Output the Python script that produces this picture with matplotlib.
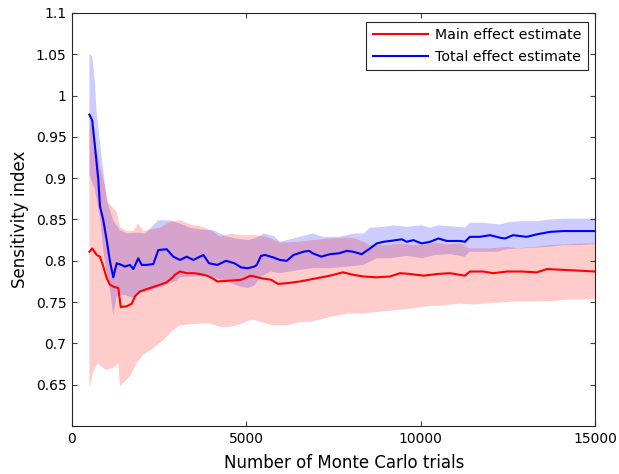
import matplotlib
matplotlib.use("Agg")
import matplotlib.pyplot as plt
import numpy as np

# main effect (red) estimate
main_x = [500, 580, 710, 803, 898, 995, 1090, 1233, 1328, 1397, 1569, 1712, 1807, 1950,
          2237, 2524, 2716, 2859, 2950, 3097, 3290, 3480, 3670, 3870, 4020, 4170, 4550,
          4850, 5130, 5420, 5710, 5910, 6190, 6540, 6911, 7399, 7770, 8070, 8360, 8740,
          9120, 9410, 9700, 10090, 10470, 10840, 11270, 11410, 11790, 12080, 12470,
          12900, 13330, 13620, 14090, 14570, 15000]
main_y = [0.811, 0.815, 0.807, 0.805, 0.793, 0.779, 0.771, 0.768, 0.767, 0.744, 0.745,
          0.748, 0.757, 0.763, 0.767, 0.771, 0.774, 0.779, 0.783, 0.787, 0.785, 0.785,
          0.784, 0.782, 0.779, 0.775, 0.776, 0.777, 0.782, 0.779, 0.777, 0.772, 0.773,
          0.775, 0.778, 0.782, 0.786, 0.783, 0.781, 0.780, 0.781, 0.785, 0.784, 0.782,
          0.784, 0.785, 0.782, 0.787, 0.787, 0.785, 0.787, 0.787, 0.786, 0.790, 0.789,
          0.788, 0.787]

# total effect (blue) estimate
total_x = [500, 580, 660, 755, 803, 898, 995, 1090, 1184, 1282, 1420, 1520, 1660, 1758,
           1901, 1999, 2130, 2332, 2475, 2716, 2905, 3097, 3290, 3480, 3670, 3770, 3930,
           4170, 4420, 4660, 4850, 5040, 5230, 5300, 5420, 5540, 5780, 5965, 6160, 6350,
           6640, 6800, 6911, 7150, 7399, 7650, 7886, 8060, 8310, 8550, 8740, 8930, 9120,
           9460, 9600, 9790, 10030, 10270, 10510, 10750, 11130, 11270, 11410, 11700,
           11990, 12270, 12420, 12650, 13040, 13330, 13710, 14090, 14480, 15000]
total_y = [0.977, 0.970, 0.938, 0.898, 0.866, 0.849, 0.825, 0.799, 0.780, 0.797, 0.795,
           0.793, 0.795, 0.790, 0.803, 0.795, 0.795, 0.796, 0.813, 0.814, 0.805, 0.801,
           0.805, 0.801, 0.805, 0.807, 0.797, 0.795, 0.800, 0.797, 0.792, 0.791, 0.793,
           0.795, 0.806, 0.807, 0.804, 0.801, 0.800, 0.807, 0.811, 0.812, 0.809, 0.805,
           0.808, 0.809, 0.812, 0.811, 0.808, 0.815, 0.821, 0.823, 0.824, 0.826, 0.823,
           0.825, 0.821, 0.823, 0.827, 0.824, 0.824, 0.823, 0.829, 0.829, 0.831, 0.828,
           0.827, 0.831, 0.829, 0.832, 0.835, 0.836, 0.836, 0.836]

# confidence band of main effect
main_hi_x = [500, 660, 803, 946, 1041, 1184, 1282, 1377, 1569, 1758, 1901, 2045, 2237,
             2524, 2810, 3097, 3390, 3770, 4050, 4250, 4550, 4850, 5300, 5590, 5965,
             6540, 6911, 7399, 7886, 8100, 8360, 8550, 9000, 9410, 9700, 10090, 10400,
             10750, 11130, 11410, 11990, 12470, 12800, 13330, 13710, 14200, 14570, 15000]
main_hi_y = [0.977, 0.942, 0.914, 0.890, 0.870, 0.864, 0.859, 0.841, 0.836, 0.836, 0.845,
             0.836, 0.838, 0.840, 0.847, 0.849, 0.844, 0.841, 0.835, 0.829, 0.833, 0.831,
             0.831, 0.829, 0.822, 0.823, 0.825, 0.827, 0.828, 0.827, 0.823, 0.819, 0.819,
             0.821, 0.819, 0.819, 0.822, 0.820, 0.821, 0.815, 0.815, 0.817, 0.815, 0.817,
             0.819, 0.820, 0.821, 0.821]
main_lo_x = [500, 596, 739, 835, 980, 1184, 1328, 1377, 1520, 1663, 1855, 2045, 2332,
             2620, 2905, 3097, 3390, 3670, 3960, 4250, 4530, 4820, 5160, 5490, 5780, 6190,
             6540, 6830, 7120, 7400, 7880, 8360, 8740, 9220, 9700, 10180, 10660, 11130,
             11560, 12000, 12470, 12900, 13330, 13710, 14200, 14570, 15000]
main_lo_y = [0.646, 0.664, 0.676, 0.672, 0.668, 0.670, 0.676, 0.648, 0.654, 0.660, 0.676,
             0.686, 0.694, 0.704, 0.716, 0.722, 0.723, 0.724, 0.724, 0.720, 0.720, 0.723,
             0.729, 0.725, 0.722, 0.722, 0.726, 0.726, 0.729, 0.732, 0.736, 0.736, 0.738,
             0.740, 0.742, 0.745, 0.746, 0.748, 0.747, 0.749, 0.750, 0.751, 0.751, 0.751,
             0.753, 0.753, 0.754]

# confidence band of total effect
total_hi_x = [500, 580, 660, 700, 803, 995, 1184, 1377, 1569, 1900, 2100, 2475, 2810,
              3097, 3390, 3670, 4060, 4400, 4680, 5060, 5300, 5500, 5780, 5965, 6540,
              6911, 7200, 7650, 7886, 8100, 8360, 8550, 8930, 9220, 9600, 10030, 10270,
              10510, 10750, 11130, 11270, 11410, 11800, 12270, 12550, 12900, 13330,
              13710, 14090, 14570, 15000]
total_hi_y = [1.051, 1.047, 1.015, 0.983, 0.943, 0.874, 0.849, 0.837, 0.833, 0.834, 0.833,
              0.849, 0.849, 0.845, 0.840, 0.838, 0.837, 0.830, 0.827, 0.825, 0.828, 0.833,
              0.830, 0.823, 0.829, 0.833, 0.829, 0.829, 0.831, 0.833, 0.833, 0.840, 0.841,
              0.843, 0.841, 0.843, 0.840, 0.843, 0.842, 0.841, 0.840, 0.846, 0.846, 0.844,
              0.847, 0.848, 0.848, 0.850, 0.851, 0.851, 0.851]
total_lo_x = [500, 660, 803, 898, 995, 1090, 1184, 1282, 1470, 1758, 1901, 2140, 2430,
              2716, 3000, 3097, 3577, 3870, 4300, 4800, 5040, 5230, 5420, 5710, 5965, 6540,
              6911, 7399, 7886, 8360, 8550, 8740, 9120, 9600, 10030, 10400, 10840, 11270,
              11410, 11800, 12200, 12470, 12900, 13330, 13710, 14090, 14570, 15000]
total_lo_y = [0.904, 0.886, 0.853, 0.813, 0.785, 0.765, 0.734, 0.757, 0.759, 0.755, 0.761,
              0.763, 0.767, 0.771, 0.776, 0.780, 0.781, 0.782, 0.777, 0.769, 0.767, 0.770,
              0.781, 0.787, 0.785, 0.789, 0.791, 0.791, 0.793, 0.795, 0.799, 0.803, 0.803,
              0.806, 0.803, 0.807, 0.808, 0.805, 0.811, 0.811, 0.811, 0.814, 0.815, 0.816,
              0.817, 0.819, 0.819, 0.820]

xticks = [0, 5000, 10000, 15000]
xticklabels = ["0", "5000", "10000", "15000"]
yticks = [0.65, 0.7, 0.75, 0.8, 0.85, 0.9, 0.95, 1.0, 1.05, 1.1]
yticklabels = ["0.65", "0.7", "0.75", "0.8", "0.85", "0.9", "0.95", "1", "1.05", "1.1"]


def band(ax, xh, yh, xl, yl, color):
    px = np.r_[xh, xl[::-1]]
    py = np.r_[yh, yl[::-1]]
    ax.fill(px, py, color=color, alpha=0.2, lw=0)


fig = plt.figure(figsize=(6.19, 4.74), dpi=100)
ax = fig.add_axes([0.1163, 0.1013, 0.8449, 0.8713])

band(ax, total_hi_x, total_hi_y, total_lo_x, total_lo_y, "#0000ff")
band(ax, main_hi_x, main_hi_y, main_lo_x, main_lo_y, "#ff0000")
ax.plot(main_x, main_y, color="#ff0000", lw=1.5, label="Main effect estimate")
ax.plot(total_x, total_y, color="#0000ff", lw=1.5, label="Total effect estimate")

ax.set_xlim(0, 15000)
ax.set_ylim(0.6, 1.1)
ax.set_xticks(xticks)
ax.set_xticklabels(xticklabels)
ax.set_yticks(yticks)
ax.set_yticklabels(yticklabels)
ax.tick_params(direction="in", top=True, right=True, length=3.5, width=0.8,
               color="#404040", labelsize=10, pad=4)
for s in ax.spines.values():
    s.set_color("#262626")
    s.set_linewidth(0.8)

ax.set_xlabel("Number of Monte Carlo trials", fontsize=12)
ax.xaxis.set_label_coords(0.52, -0.068)
ax.set_ylabel("Sensitivity index", fontsize=12, labelpad=5)

leg = ax.legend(loc="upper right", bbox_to_anchor=(0.9866, 0.978), borderaxespad=0,
                fontsize=10.2, handlelength=3.9, handletextpad=0.5, borderpad=0.45,
                labelspacing=0.5, fancybox=False, framealpha=1, edgecolor="#262626")
leg.get_frame().set_linewidth(0.8)

fig.savefig("out.png", dpi=100)
